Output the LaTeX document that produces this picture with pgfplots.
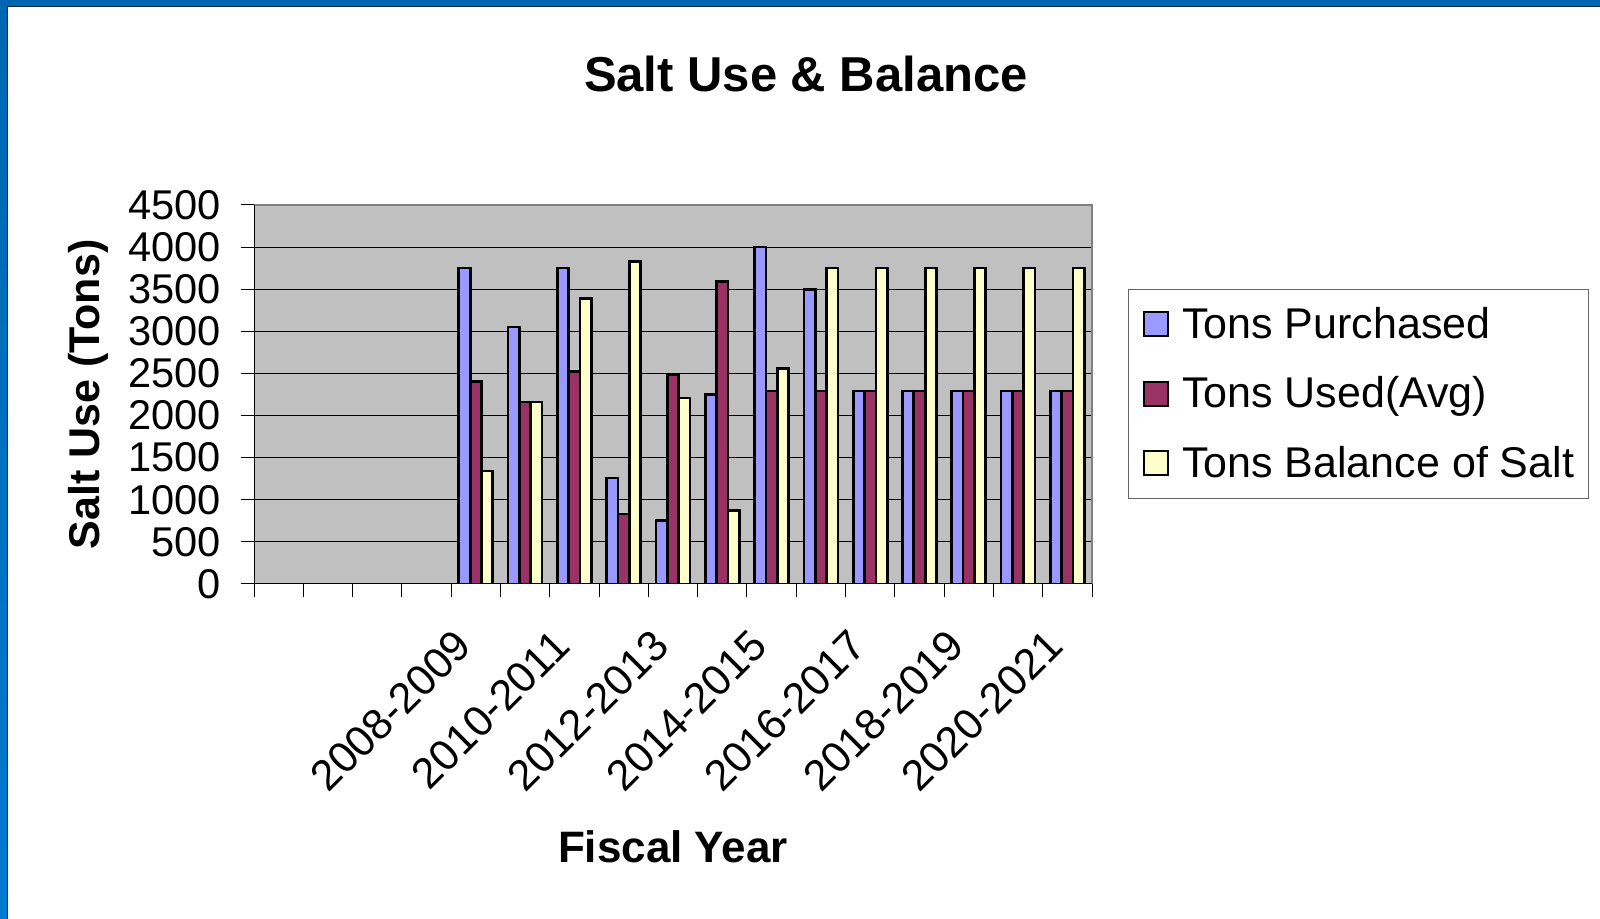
\documentclass[border=0pt]{standalone}
\usepackage{fontspec}
\setmainfont{Liberation Sans}
\usepackage{pgfplots}
\pgfplotsset{compat=1.18}
\definecolor{barblue}{HTML}{9999FF}
\definecolor{barmaroon}{HTML}{993366}
\definecolor{baryellow}{HTML}{FFFFCC}
\definecolor{plotgrey}{HTML}{C0C0C0}
\definecolor{framegrey}{HTML}{808080}
\definecolor{slidetop}{HTML}{0066B2}
\definecolor{slidebot}{HTML}{0079D0}
\definecolor{slideline}{HTML}{0A2A4A}
\begin{document}
\begin{tikzpicture}[x=1bp,y=1bp]
\useasboundingbox (0,0) rectangle (800,459.5);
\fill[white] (0,0) rectangle (800,459.5);
% slide frame (top and left bands)
\fill[slidetop] (0,456.4) rectangle (800,459.5);
\shade[top color=slidetop, bottom color=slidebot] (0,0) rectangle (3.65,459.5);
\draw[slideline, line width=0.5bp] (3.9,0) -- (3.9,456.15) -- (800,456.15);
% title and labels
\node[anchor=base, font=\fontsize{24.5bp}{29bp}\selectfont\bfseries] at (403,413.6) {Salt Use \& Balance};
\node[anchor=base, font=\fontsize{22bp}{26bp}\selectfont\bfseries] at (336.5,28.4) {Fiscal Year};
\node[anchor=base, rotate=90, font=\fontsize{21.5bp}{26bp}\selectfont\bfseries] at (49.5,262.25) {Salt Use (Tons)};
\begin{axis}[
  at={(127bp,167.5bp)}, anchor=south west,
  scale only axis, width=419bp, height=189.5bp,
  xmin=-0.5, xmax=16.5, ymin=0, ymax=4500,
  ybar=0pt, bar width=5.67bp,
  axis background/.style={fill=plotgrey},
  axis line style={draw=none},
  ymajorgrids, grid style={black, line width=0.5bp},
  ytick={0,500,...,4500},
  xtick={4,6,...,16},
  xticklabels={2008-2009,2010-2011,2012-2013,2014-2015,2016-2017,2018-2019,2020-2021},
  minor xtick={-0.5,0.5,...,16.5},
  major x tick style={draw=none},
  tick align=outside, tick pos=left,
  major tick length=6.5bp, minor tick length=6.5bp,
  tick style={black, line width=0.5bp},
  /pgf/number format/assume math mode=true,
  /pgf/number format/1000 sep={},
  yticklabel style={font=\fontsize{20.8bp}{24bp}\selectfont, xshift=-6.5bp},
  xticklabel style={font=\fontsize{21.5bp}{25bp}\selectfont, rotate=45, anchor=east, inner sep=0pt, xshift=-18.7bp, yshift=-10.1bp},
  legend style={at={(1.043,0.7784)}, anchor=north west, draw=framegrey!80!black, line width=0.6bp, fill=white,
    font=\fontsize{21.5bp}{26bp}\selectfont,
    nodes={inner xsep=0pt, inner ysep=0pt, text height=18bp, text depth=4bp},
    column sep=6.4bp, row sep=12.75bp, inner xsep=7.2bp, inner ysep=6.4bp},
  legend cell align=left,
  every axis plot post/.append style={legend image code/.code={\draw[##1, line width=1.1bp] (0bp,-6bp) rectangle (12bp,6bp);}},
  after end axis/.code={
    \draw[framegrey, line width=1.3bp] (rel axis cs:0,1) -- (rel axis cs:1,1) -- (rel axis cs:1,0);
    \draw[black, line width=0.5bp] (rel axis cs:0,1) -- (rel axis cs:0,0) -- (rel axis cs:1,0);
  },
]
\addplot[fill=barblue, draw=black, line width=1.35bp] coordinates {
(4,3750) (5,3050) (6,3750) (7,1260) (8,750) (9,2250) (10,4000) (11,3500) (12,2290) (13,2290) (14,2290) (15,2290) (16,2290)};
\addplot[fill=barmaroon, draw=black, line width=1.35bp] coordinates {
(4,2400) (5,2160) (6,2520) (7,830) (8,2490) (9,3590) (10,2290) (11,2290) (12,2290) (13,2290) (14,2290) (15,2290) (16,2290)};
\addplot[fill=baryellow, draw=black, line width=1.35bp] coordinates {
(4,1340) (5,2160) (6,3390) (7,3830) (8,2210) (9,870) (10,2560) (11,3750) (12,3750) (13,3750) (14,3750) (15,3750) (16,3750)};
\legend{Tons Purchased, Tons Used(Avg), Tons Balance of Salt}
\end{axis}
\end{tikzpicture}
\end{document}
